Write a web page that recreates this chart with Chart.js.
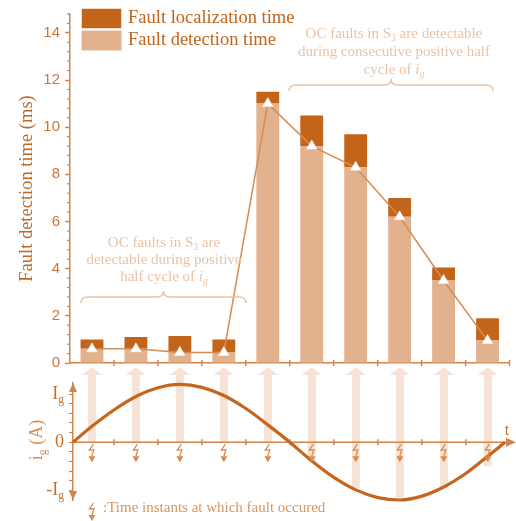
<!DOCTYPE html>
<html>
<head>
<meta charset="utf-8">
<script src="https://cdn.jsdelivr.net/npm/chart.js@4.4.0/dist/chart.umd.min.js"></script>
<style>
  html, body { margin: 0; padding: 0; background: #fff; }
  #wrap { position: relative; width: 516px; height: 521px; }
  #wrap canvas { position: absolute; left: 0; top: 0; }
</style>
</head>
<body>
<div id="wrap">
  <canvas id="barChart" width="516" height="521"></canvas>
  <canvas id="currentChart" width="516" height="521"></canvas>
</div>
<script>
//fault cases (one per fault instant)
const faultCases = ['1', '2', '3', '4', '5', '6', '7', '8', '9', '10'];
//times in ms
const detectionTime = [0.6, 0.6, 0.45, 0.45, 11.0, 9.2, 8.3, 6.2, 3.5, 0.95];
const localizationTime = [0.4, 0.5, 0.7, 0.55, 0.5, 1.3, 1.4, 0.8, 0.55, 0.95];
const timeTicks = [0, 2, 4, 6, 8, 10, 12, 14];

//grid current i_g (in units of Ig) over time (in fault-case widths)
const sineT = [0.07, 0.5, 1, 1.5, 2, 2.5, 3, 3.5, 4, 4.5, 5, 5.5, 6, 6.5, 7, 7.5, 8, 8.5, 9, 9.5, 9.89];
const sineI = [0, 0.33, 0.67, 0.95, 1.13, 1.2, 1.14, 0.97, 0.7, 0.36, 0, -0.39, -0.73, -0.99, -1.15, -1.2, -1.12, -0.93, -0.65, -0.29, 0];
//where the light arrows stop on the current plot
const arrowEnd = [0, 0, 0, 0, 0, -0.4, -0.95, -1.15, -0.95, -0.5];
const currentTickValues = [-1, 0, 1];
const currentTickLabels = [[['-I', 'n'], ['g', 's']], [['0', 'n']], [['I', 'n'], ['g', 's']]];

const AXIS = '#D3844A';
const TICK_TEXT = '#CF7538';
const DARK = '#C3641B';
const LIGHT = '#E2B18D';
const LINE = '#D88C52';
const NOTE = '#EBC3A4';
const LEGEND_TEXT = '#C1651F';
const ARROW_FILL = '#F6E3D5';
const SINE = '#C6651D';
const SERIF = '"Liberation Serif", "Times New Roman", serif';

//draw text made of parts: n normal, s subscript, i italic, is italic subscript
function fontFor(style, size) {
  const sub = style.indexOf('s') >= 0;
  const it = style.indexOf('i') >= 0;
  return (it ? 'italic ' : '') + (sub ? size * 0.65 : size) + 'px ' + SERIF;
}
function drawRich(ctx, parts, x, y, size, align) {
  let w = 0;
  parts.forEach(p => { ctx.font = fontFor(p[1], size); w += ctx.measureText(p[0]).width; });
  let cx = align === 'center' ? x - w / 2 : (align === 'right' ? x - w : x);
  ctx.textAlign = 'left';
  ctx.textBaseline = 'middle';
  parts.forEach(p => {
    ctx.font = fontFor(p[1], size);
    const dy = p[1].indexOf('s') >= 0 ? size * 0.32 : 0;
    ctx.fillText(p[0], cx, y + dy);
    cx += ctx.measureText(p[0]).width;
  });
}

//curly brace, opening downward
function drawBrace(ctx, x1, x2, y, color) {
  const cx = (x1 + x2) / 2;
  ctx.save();
  ctx.strokeStyle = color;
  ctx.lineWidth = 1.5;
  ctx.beginPath();
  ctx.moveTo(x1, y + 6);
  ctx.quadraticCurveTo(x1, y, x1 + 7, y);
  ctx.lineTo(cx - 7, y);
  ctx.quadraticCurveTo(cx, y, cx, y - 6);
  ctx.quadraticCurveTo(cx, y, cx + 7, y);
  ctx.lineTo(x2 - 7, y);
  ctx.quadraticCurveTo(x2, y, x2, y + 6);
  ctx.stroke();
  ctx.restore();
}

//lightning with arrow, marks a fault instant
function drawLightning(ctx, cx, y0, color) {
  ctx.save();
  ctx.strokeStyle = color;
  ctx.fillStyle = color;
  ctx.lineWidth = 1.3;
  ctx.beginPath();
  ctx.moveTo(cx + 1.5, y0);
  ctx.lineTo(cx - 2.5, y0 + 6);
  ctx.lineTo(cx + 2, y0 + 5.5);
  ctx.lineTo(cx, y0 + 12);
  ctx.stroke();
  ctx.beginPath();
  ctx.moveTo(cx - 3.5, y0 + 12);
  ctx.lineTo(cx + 3.5, y0 + 12);
  ctx.lineTo(cx, y0 + 18);
  ctx.closePath();
  ctx.fill();
  ctx.restore();
}

//top chart extras: minor ticks, legend, notes
const barExtras = {
  id: 'barExtras',
  afterDraw(chart) {
    const ctx = chart.ctx;
    const y = chart.scales.y, x = chart.scales.x;
    ctx.save();
    //minor ticks every 0.4 ms
    ctx.strokeStyle = AXIS;
    ctx.lineWidth = 1.2;
    for (let k = 1; k * 0.4 <= 14.8; k++) {
      if (k % 5 === 0) continue;
      const py = y.getPixelForValue(k * 0.4);
      ctx.beginPath();
      ctx.moveTo(y.right - 3, py);
      ctx.lineTo(y.right, py);
      ctx.stroke();
    }
    //boundary ticks crossing the time axis
    ctx.lineWidth = 1.5;
    for (let k = 1; k <= faultCases.length; k++) {
      const px = x.getPixelForValue(k - 0.5);
      ctx.beginPath();
      ctx.moveTo(px, x.top - 3);
      ctx.lineTo(px, x.top + 3);
      ctx.stroke();
    }
    //legend
    const items = [
      { label: chart.data.datasets[1].label, color: DARK, top: 8 },
      { label: chart.data.datasets[0].label, color: LIGHT, top: 30 }
    ];
    items.forEach(it => {
      ctx.fillStyle = it.color;
      ctx.fillRect(81, it.top, 41, 21);
      ctx.strokeStyle = '#F3DCCB';
      ctx.lineWidth = 1;
      ctx.strokeRect(81.5, it.top + 0.5, 40, 20);
      ctx.fillStyle = LEGEND_TEXT;
      drawRich(ctx, [[it.label, 'n']], 128, it.top + 10.5, 18.5, 'left');
    });
    //notes
    ctx.fillStyle = NOTE;
    drawRich(ctx, [['OC faults in S', 'n'], ['3', 's'], [' are', 'n']], 164, 243, 15, 'center');
    drawRich(ctx, [['detectable during positive', 'n']], 164, 260, 15, 'center');
    drawRich(ctx, [['half cycle of ', 'n'], ['i', 'i'], ['g', 'is']], 164, 277, 15, 'center');
    drawBrace(ctx, 81, 246, 297, NOTE);
    drawRich(ctx, [['OC faults in S', 'n'], ['3', 's'], [' are detectable', 'n']], 394, 34, 15, 'center');
    drawRich(ctx, [['during consecutive positive half', 'n']], 394, 52, 15, 'center');
    drawRich(ctx, [['cycle of ', 'n'], ['i', 'i'], ['g', 'is']], 394, 70, 15, 'center');
    drawBrace(ctx, 289, 493, 85, NOTE);
    ctx.restore();
  }
};

new Chart(document.getElementById('barChart'), {
  type: 'bar',
  data: {
    labels: faultCases,
    datasets: [
      { label: 'Fault detection time', data: detectionTime, backgroundColor: LIGHT, stack: 'time', order: 1, barPercentage: 0.52, categoryPercentage: 1 },
      { label: 'Fault localization time', data: localizationTime, backgroundColor: DARK, stack: 'time', order: 1, barPercentage: 0.52, categoryPercentage: 1 },
      { type: 'line', label: 'detected', data: detectionTime, borderColor: LINE, borderWidth: 1.5, pointStyle: 'triangle', pointRadius: 6, pointBackgroundColor: '#fff', pointBorderColor: '#fff', pointBorderWidth: 0.5, tension: 0, order: 0 }
    ]
  },
  options: {
    responsive: false,
    animation: false,
    layout: { padding: { left: 0, right: 6, top: 7, bottom: 0 } },
    plugins: { legend: { display: false }, tooltip: { enabled: false } },
    scales: {
      x: {
        stacked: true,
        ticks: { display: false },
        grid: { display: false },
        border: { color: AXIS, width: 1.5 },
        afterFit: s => { s.height = 158; }
      },
      y: {
        stacked: true,
        min: 0,
        max: 14.8,
        afterBuildTicks: s => { s.ticks = timeTicks.map(v => ({ value: v })); },
        ticks: { color: TICK_TEXT, font: { family: '"Liberation Sans", Arial, sans-serif', size: 15 }, padding: 5 },
        grid: { drawOnChartArea: false, tickLength: 5, tickColor: AXIS, tickWidth: 1.5 },
        border: { color: AXIS, width: 1.5 },
        title: { display: true, text: 'Fault detection time (ms)', color: LEGEND_TEXT, font: { family: SERIF, size: 18.5 }, padding: { top: 16, bottom: 0 } },
        afterFit: s => { s.width = 70; }
      }
    }
  },
  plugins: [barExtras]
});

//bottom chart extras: arrows, t axis, labels
const currentExtras = {
  id: 'currentExtras',
  beforeDatasetsDraw(chart) {
    const ctx = chart.ctx;
    const x = chart.scales.x, y = chart.scales.y;
    const y0 = y.getPixelForValue(0);
    ctx.save();
    //light arrows from each fault instant up to the bars
    ctx.fillStyle = ARROW_FILL;
    faultCases.forEach((c, i) => {
      const px = x.getPixelForValue(i + 0.5);
      const bottom = y.getPixelForValue(arrowEnd[i]);
      ctx.fillRect(px - 4, 375, 8, bottom - 375);
      ctx.beginPath();
      ctx.moveTo(px - 10, 375);
      ctx.lineTo(px + 10, 375);
      ctx.lineTo(px, 367);
      ctx.closePath();
      ctx.fill();
    });
    //t axis
    ctx.strokeStyle = AXIS;
    ctx.fillStyle = AXIS;
    ctx.lineWidth = 1.5;
    ctx.beginPath();
    ctx.moveTo(y.right, y0);
    ctx.lineTo(508, y0);
    ctx.stroke();
    for (let k = 1; k < faultCases.length; k++) {
      const px = x.getPixelForValue(k);
      ctx.beginPath();
      ctx.moveTo(px, y0 - 3);
      ctx.lineTo(px, y0 + 3);
      ctx.stroke();
    }
    ctx.beginPath();
    ctx.moveTo(506, y0 - 4.5);
    ctx.lineTo(516, y0);
    ctx.lineTo(506, y0 + 4.5);
    ctx.closePath();
    ctx.fill();
    ctx.restore();
  },
  afterDatasetsDraw(chart) {
    const ctx = chart.ctx;
    const x = chart.scales.x, y = chart.scales.y;
    const y0 = y.getPixelForValue(0);
    ctx.save();
    faultCases.forEach((c, i) => {
      drawLightning(ctx, x.getPixelForValue(i + 0.5), y0 + 2, '#D88A50');
    });
    //arrowheads on the i_g axis
    const ax = y.right;
    ctx.fillStyle = AXIS;
    ctx.beginPath();
    ctx.moveTo(ax - 4, chart.chartArea.top + 9);
    ctx.lineTo(ax + 4, chart.chartArea.top + 9);
    ctx.lineTo(ax, chart.chartArea.top);
    ctx.closePath();
    ctx.fill();
    ctx.beginPath();
    ctx.moveTo(ax - 4, chart.chartArea.bottom - 9);
    ctx.lineTo(ax + 4, chart.chartArea.bottom - 9);
    ctx.lineTo(ax, chart.chartArea.bottom);
    ctx.closePath();
    ctx.fill();
    //tick labels
    ctx.fillStyle = '#C8702E';
    currentTickValues.forEach((v, i) => {
      drawRich(ctx, currentTickLabels[i], 64, y.getPixelForValue(v), 18, 'right');
    });
    //axis title
    ctx.save();
    ctx.translate(37, 440);
    ctx.rotate(-Math.PI / 2);
    ctx.fillStyle = '#D58E58';
    drawRich(ctx, [['i', 'n'], ['g', 's'], [' (A)', 'n']], 0, 0, 18, 'center');
    ctx.restore();
    ctx.fillStyle = '#C8702E';
    drawRich(ctx, [['t', 'n']], 507, 431, 16, 'center');
    //bottom legend
    drawLightning(ctx, 92, 503, '#D88A50');
    ctx.fillStyle = '#D9955F';
    drawRich(ctx, [[':Time instants at which fault occured', 'n']], 103, 508, 15, 'left');
    ctx.restore();
  }
};

new Chart(document.getElementById('currentChart'), {
  type: 'line',
  data: {
    datasets: [
      { label: 'ig', data: sineT.map((t, i) => ({ x: t, y: sineI[i] })), borderColor: SINE, borderWidth: 3.2, pointRadius: 0, cubicInterpolationMode: 'monotone', clip: 10 }
    ]
  },
  options: {
    responsive: false,
    animation: false,
    layout: { padding: { left: 0, right: 4, top: 383, bottom: 21 } },
    plugins: { legend: { display: false }, tooltip: { enabled: false } },
    scales: {
      x: { type: 'linear', min: 0.07, max: 10.05, display: false },
      y: {
        min: -1.2,
        max: 1.23,
        afterBuildTicks: s => {
          const t = [];
          for (let k = -5; k <= 5; k++) t.push({ value: k / 5 });
          s.ticks = t;
        },
        ticks: { display: false },
        grid: { drawOnChartArea: false, tickLength: 4, tickColor: AXIS, tickWidth: 1.2 },
        border: { color: AXIS, width: 1.5 },
        afterFit: s => { s.width = 73; }
      }
    }
  },
  plugins: [currentExtras]
});
</script>
</body>
</html>
